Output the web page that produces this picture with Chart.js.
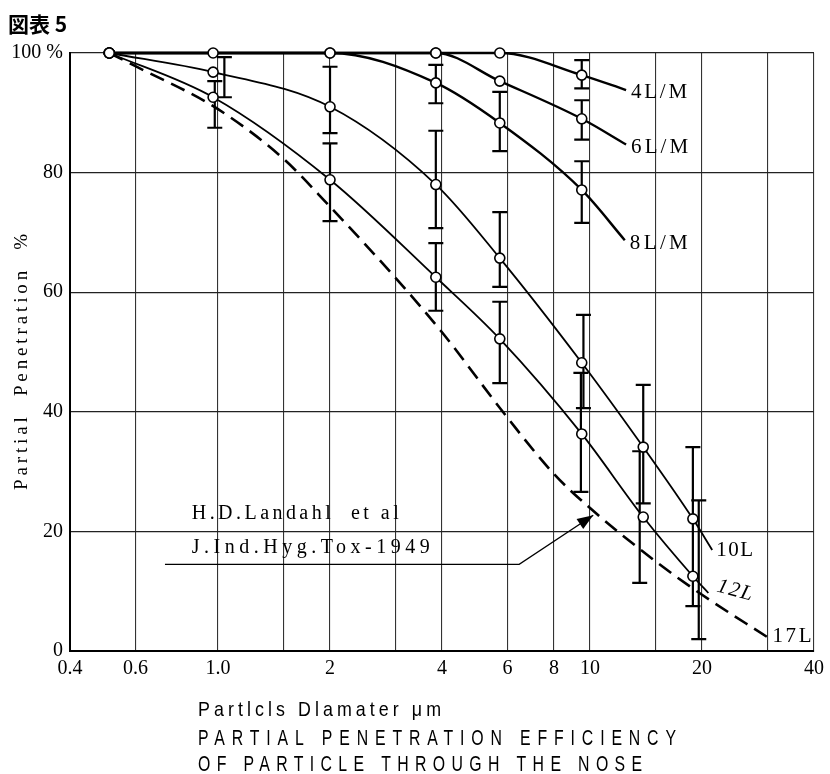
<!DOCTYPE html>
<html>
<head>
<meta charset="utf-8">
<script src="https://cdn.jsdelivr.net/npm/chart.js@4/dist/chart.umd.min.js"></script>
<style>
html,body{margin:0;padding:0;background:#fff;}
canvas{display:block;}
</style>
</head>
<body>
<canvas id="c" width="830" height="774"></canvas>
<script>
// ---------- data ----------
const xTickValues = [0.4, 0.6, 1, 1.5, 2, 3, 4, 6, 8, 10, 15, 20, 30, 40];
const xTickTexts  = ['0.4', '0.6', '1.0', '', '2', '', '4', '6', '8', '10', '', '20', '', '40'];
const yTickValues = [0, 20, 40, 60, 80, 100];

const seriesNames = ['4L/M', '6L/M', '8L/M', '10L', '12L', '17L'];

// last entry of each solid series = end of the leader line to its label (no marker)
const x4L  = [0.51, 0.97, 2.0, 3.85, 5.72, 9.5, 12.5];
const y4L  = [100, 100, 100, 100, 100, 96.3, 93.8];
const x6L  = [0.51, 3.85, 5.72, 9.5, 12.5];
const y6L  = [100, 100, 95.3, 89.0, 84.7];
const x8L  = [0.51, 2.0, 3.85, 5.72, 9.5, 12.4];
const y8L  = [100, 100, 95.0, 88.3, 77.1, 68.7];
const x10L = [0.51, 0.97, 2.0, 3.85, 5.72, 9.5, 13.9, 18.9, 21.3];
const y10L = [100, 96.8, 91.0, 78.0, 65.7, 48.2, 34.1, 22.1, 16.9];
const x12L = [0.51, 0.97, 2.0, 3.85, 5.72, 9.5, 13.9, 18.9, 20.8];
const y12L = [100, 92.6, 78.8, 62.5, 52.2, 36.3, 22.4, 12.5, 9.7];
const x17L = [0.51, 0.6, 1.0, 1.5, 2, 3, 4, 6, 8, 10, 15, 20, 30];
const y17L = [100, 97.8, 90.6, 82.3, 74.3, 62.4, 53.3, 39.0, 29.6, 23.9, 15.0, 9.4, 2.3];

// error bars
const errX    = [1.04, 0.98, 2.0, 2.0, 3.85, 3.85, 3.85, 5.72, 5.72, 5.72, 9.5, 9.5, 9.5, 9.6, 9.45, 13.9, 13.6, 18.9, 19.6];
const errLow  = [92.6, 87.5, 86.6, 71.9, 91.6, 70.7, 56.9, 83.6, 60.9, 44.8, 94.1, 85.5, 71.6, 40.6, 26.6, 24.7, 11.4, 7.5, 2.0];
const errHigh = [99.3, 95.3, 97.7, 84.9, 98.0, 87.0, 68.2, 93.5, 73.4, 58.4, 98.8, 92.1, 81.9, 56.2, 46.5, 44.5, 33.4, 34.1, 25.2];

// annotation (data coordinates)
const noteLines = ['H.D.Landahl  et al', 'J.Ind.Hyg.Tox-1949'];
const noteTextX = 0.85, noteTextY = [22.9, 17.2];
const noteLineStart = [0.72, 14.5], noteLineKnee = [6.45, 14.5], noteArrowTip = [10.2, 22.7];

const titleText = '図表 5';
const yTitle = 'Partial  Penetration  %';
const bottomLines = ['Partlcls Dlamater \u03bcm', 'PARTIAL PENETRATION EFFICIENCY', 'OF PARTICLE THROUGH THE NOSE'];

// ---------- chart ----------
function pts(xs, ys) { return xs.map((x, i) => ({x: x, y: ys[i]})); }
function radii(n, hasLeader) { return Array.from({length: n}, (_, i) => (hasLeader && i === n - 1) ? 0 : 5); }

function solid(label, xs, ys, w) {
  return {
    label: label, data: pts(xs, ys),
    borderColor: '#000', borderWidth: w, backgroundColor: '#fff',
    pointRadius: radii(xs.length, true), pointBackgroundColor: '#fff',
    pointBorderColor: '#000', pointBorderWidth: 1.6,
    cubicInterpolationMode: 'monotone', clip: false, fill: false
  };
}

const datasets = [
  solid(seriesNames[0], x4L, y4L, 2.4),
  solid(seriesNames[1], x6L, y6L, 2.4),
  solid(seriesNames[2], x8L, y8L, 2.4),
  solid(seriesNames[3], x10L, y10L, 1.8),
  solid(seriesNames[4], x12L, y12L, 1.8),
  {
    label: seriesNames[5], data: pts(x17L, y17L),
    borderColor: '#000', borderWidth: 2.6, borderDash: [15, 8],
    pointRadius: 0, cubicInterpolationMode: 'monotone', clip: false, fill: false
  }
];

// draw text stretched to a target width (letter spacing), optionally condensed horizontally
function spacedText(ctx, txt, x, y, targetW, sx) {
  sx = sx || 1;
  ctx.save();
  ctx.translate(x, y);
  ctx.scale(sx, 1);
  ctx.letterSpacing = '0px';
  const w0 = ctx.measureText(txt).width;
  const n = [...txt].length;
  const sp = targetW ? (targetW / sx - w0) / (n - 1) : 0;
  ctx.letterSpacing = sp.toFixed(2) + 'px';
  ctx.fillText(txt, 0, 0);
  ctx.restore();
}

const errorBars = {
  id: 'errorBars',
  beforeDatasetsDraw(chart) {
    const {ctx, scales: {x, y}} = chart;
    ctx.save();
    ctx.strokeStyle = '#000';
    ctx.lineWidth = 2.2;
    for (let i = 0; i < errX.length; i++) {
      const px = x.getPixelForValue(errX[i]);
      const p1 = y.getPixelForValue(errLow[i]);
      const p2 = y.getPixelForValue(errHigh[i]);
      ctx.beginPath();
      ctx.moveTo(px, p1); ctx.lineTo(px, p2);
      ctx.moveTo(px - 7.5, p1); ctx.lineTo(px + 7.5, p1);
      ctx.moveTo(px - 7.5, p2); ctx.lineTo(px + 7.5, p2);
      ctx.stroke();
    }
    ctx.restore();
  }
};

const texts = {
  id: 'texts',
  afterDraw(chart) {
    const {ctx, scales: {x, y}} = chart;
    ctx.save();
    ctx.fillStyle = '#000';
    ctx.textBaseline = 'middle';
    ctx.textAlign = 'left';

    // title
    ctx.font = 'bold 21px "Noto Sans CJK JP", "Noto Sans", sans-serif';
    ctx.fillText(titleText, 8, 24);

    // y title
    ctx.save();
    ctx.translate(22, 362);
    ctx.rotate(-Math.PI / 2);
    ctx.font = '19px "Liberation Serif", serif';
    spacedText(ctx, yTitle, -128, 0, 256);
    ctx.restore();

    // bottom texts (condensed look)
    ctx.font = '21px "Liberation Sans", sans-serif';
    spacedText(ctx, bottomLines[0], 198, 710, 243, 0.85);
    ctx.font = '22px "Liberation Sans", sans-serif';
    spacedText(ctx, bottomLines[1], 198, 739, 478, 0.72);
    spacedText(ctx, bottomLines[2], 198, 765, 444, 0.72);

    // curve labels at ends of leader lines
    ctx.font = '21px "Liberation Serif", serif';
    const ends = [[x4L, y4L, 5, 2, 56], [x6L, y6L, 5, 3, 57], [x8L, y8L, 5, 3, 58], [x10L, y10L, 4, 1, 37]];
    ends.forEach((e, k) => {
      const xs = e[0], ys = e[1];
      const px = x.getPixelForValue(xs[xs.length - 1]) + e[2];
      const py = y.getPixelForValue(ys[ys.length - 1]) + e[3];
      spacedText(ctx, seriesNames[k], px, py, e[4]);
    });
    // 12L italic, slightly rotated
    {
      const px = x.getPixelForValue(x12L[x12L.length - 1]) + 9;
      const py = y.getPixelForValue(y12L[y12L.length - 1]) - 7;
      ctx.save();
      ctx.translate(px, py);
      ctx.rotate(0.26);
      ctx.font = 'italic 21px "Liberation Serif", serif';
      spacedText(ctx, seriesNames[4], 0, 0, 36);
      ctx.restore();
    }
    // 17L
    {
      const px = x.getPixelForValue(x17L[x17L.length - 1]) + 5;
      const py = y.getPixelForValue(y17L[y17L.length - 1]) - 1;
      ctx.font = '21px "Liberation Serif", serif';
      spacedText(ctx, seriesNames[5], px, py, 39);
    }

    // annotation
    ctx.font = '20px "Liberation Serif", serif';
    const tx = x.getPixelForValue(noteTextX);
    spacedText(ctx, noteLines[0], tx, y.getPixelForValue(noteTextY[0]), 207);
    spacedText(ctx, noteLines[1], tx, y.getPixelForValue(noteTextY[1]), 238);

    const ax0 = x.getPixelForValue(noteLineStart[0]), ay0 = y.getPixelForValue(noteLineStart[1]);
    const ax1 = x.getPixelForValue(noteLineKnee[0]), ay1 = y.getPixelForValue(noteLineKnee[1]);
    const ax2 = x.getPixelForValue(noteArrowTip[0]), ay2 = y.getPixelForValue(noteArrowTip[1]);
    ctx.strokeStyle = '#000';
    ctx.lineWidth = 1.3;
    ctx.beginPath();
    ctx.moveTo(ax0, ay0); ctx.lineTo(ax1, ay1); ctx.lineTo(ax2, ay2);
    ctx.stroke();
    const ang = Math.atan2(ay2 - ay1, ax2 - ax1);
    const L = 16, W = 6;
    ctx.beginPath();
    ctx.moveTo(ax2, ay2);
    ctx.lineTo(ax2 - L * Math.cos(ang) + W * Math.sin(ang), ay2 - L * Math.sin(ang) - W * Math.cos(ang));
    ctx.lineTo(ax2 - L * Math.cos(ang) - W * Math.sin(ang), ay2 - L * Math.sin(ang) + W * Math.cos(ang));
    ctx.closePath();
    ctx.fill();

    ctx.restore();
  }
};

new Chart(document.getElementById('c').getContext('2d'), {
  type: 'line',
  data: {datasets: datasets},
  options: {
    responsive: false,
    animation: false,
    devicePixelRatio: 1,
    layout: {padding: {left: 0, right: 11, top: 53, bottom: 0}},
    plugins: {legend: {display: false}, tooltip: {enabled: false}, title: {display: false}},
    scales: {
      x: {
        type: 'logarithmic', min: 0.4, max: 40,
        afterBuildTicks: s => { s.ticks = xTickValues.map(v => ({value: v})); },
        afterFit: s => { s.height = 123; },
        grid: {color: '#333', lineWidth: 1.1, drawTicks: false},
        border: {color: '#000', width: 2},
        ticks: {
          autoSkip: false, maxRotation: 0, minRotation: 0, padding: 6, color: '#000',
          font: {family: '"Liberation Serif", serif', size: 20},
          callback: v => { const i = xTickValues.indexOf(v); return i >= 0 ? xTickTexts[i] : ''; }
        }
      },
      y: {
        min: 0, max: 100,
        afterBuildTicks: s => { s.ticks = yTickValues.map(v => ({value: v})); },
        afterFit: s => { s.width = 70; },
        grid: {color: '#222', lineWidth: 1.2, drawTicks: false},
        border: {color: '#000', width: 2},
        ticks: {
          padding: 7, color: '#000',
          font: {family: '"Liberation Serif", serif', size: 20},
          callback: v => v === 100 ? '100 %' : String(v)
        }
      }
    }
  },
  plugins: [errorBars, texts]
});
</script>
</body>
</html>
